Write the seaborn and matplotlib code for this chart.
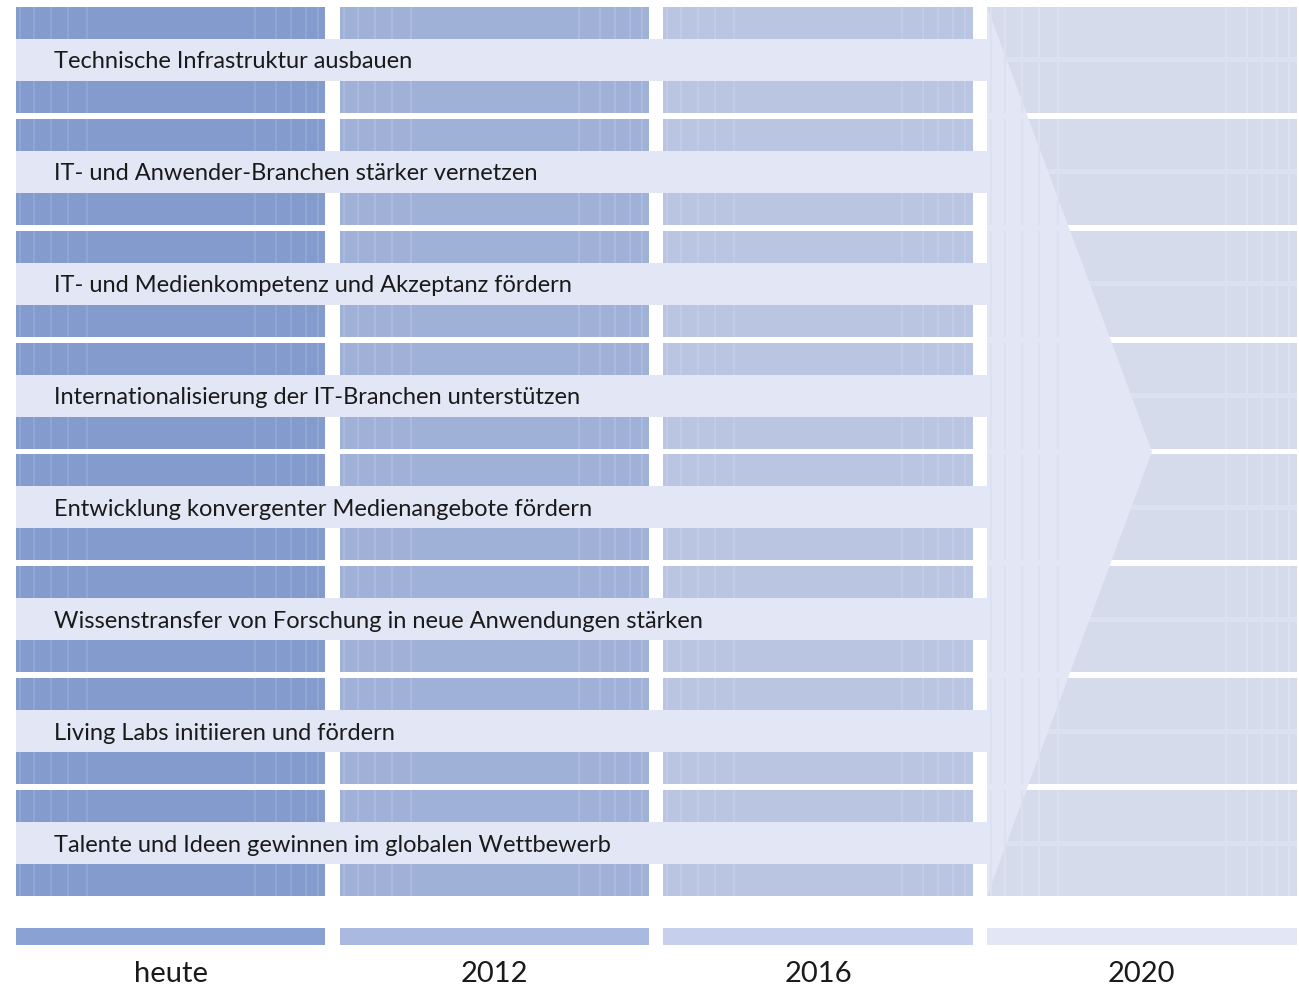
import matplotlib
matplotlib.use('Agg')
import matplotlib.pyplot as plt
import seaborn as sns
from matplotlib.patches import Polygon

# ── Data ───────────────────────────────────────────────
periods = ['heute', '2012', '2016', '2020']
measures = [
    'Technische Infrastruktur ausbauen',
    'IT- und Anwender-Branchen stärker vernetzen',
    'IT- und Medienkompetenz und Akzeptanz fördern',
    'Internationalisierung der IT-Branchen unterstützen',
    'Entwicklung konvergenter Medienangebote fördern',
    'Wissenstransfer von Forschung in neue Anwendungen stärken',
    'Living Labs initiieren und fördern',
    'Talente und Ideen gewinnen im globalen Wettbewerb',
]
block_colors = ['#839BCD', '#A0B1D8', '#BAC5E2', '#D5DBEB']
stripe_colors = ['#91A6D3', '#ABBADD', '#C2CCE6', '#DCE1EF']
legend_colors = ['#8AA1D3', '#A9B9E0', '#C6D0EC', '#E3E7F5']
band_color = '#E3E7F5'

# ── Layout (pixel space) ───────────────────────────────
W, H = 1299, 988
col_left0, col_step, col_w = 16, 323.7, 309.5
row_top0, row_step = 60, 111.86
band_half, block_half = 21, 53
stripe_offsets = [4, 18, 35, 52, 71, 239, 260, 275, 290, 302]
tip_x = 1152

sns.set_theme(style='white')
plt.rcParams['font.family'] = ['Lato', 'DejaVu Sans']

fig = plt.figure(figsize=(W / 100, H / 100), dpi=100)
ax = fig.add_axes([0, 0, 1, 1])
ax.set_xlim(0, W)
ax.set_ylim(H, 0)
ax.axis('off')

centers = [row_top0 + row_step * k for k in range(len(measures))]
col_lefts = [col_left0 + col_step * i for i in range(len(periods))]

# ── Column blocks ──────────────────────────────────────
for i, (left, c_block, c_stripe) in enumerate(zip(col_lefts, block_colors, stripe_colors)):
    if i < 3:
        segs = []
        for c in centers:
            segs.append((c - block_half, c - band_half))
            segs.append((c + band_half, c + block_half))
    else:
        segs = [(c - block_half, c + block_half) for c in centers]
    ys = [(a + b) / 2 for a, b in segs]
    hs = [b - a for a, b in segs]
    ax.barh(ys, col_w, left=left, height=hs, color=c_block, linewidth=0)
    for off in stripe_offsets:
        ax.vlines([left + off] * len(segs), [a for a, b in segs], [b for a, b in segs],
                  color=c_stripe, linewidth=1.5)
    if i == 3:
        ax.barh(centers, col_w, left=left, height=5, color=c_stripe, linewidth=0)

# ── Label bands + arrow ───────────────────────────────
band_left = col_lefts[0]
band_right = col_lefts[3]
ax.barh(centers, band_right - band_left + 1, left=band_left, height=2 * band_half,
        color=band_color, linewidth=0)
top = centers[0] - block_half
bottom = centers[-1] + block_half
ax.add_patch(Polygon([(band_right, top), (tip_x, (top + bottom) / 2), (band_right, bottom)],
                     closed=True, facecolor=band_color, edgecolor='none'))

for c, txt in zip(centers, measures):
    ax.text(54, c + 2, txt, ha='left', va='center', fontsize=17, color='#1a1a1a')

# ── Bottom legend ──────────────────────────────────────
ax.barh([936.5] * 4, col_w, left=col_lefts, height=17, color=legend_colors, linewidth=0)
for left, p in zip(col_lefts, periods):
    ax.text(left + col_w / 2, 974, p, ha='center', va='center', fontsize=21, color='#1a1a1a')

fig.savefig('out.png', dpi=100)
